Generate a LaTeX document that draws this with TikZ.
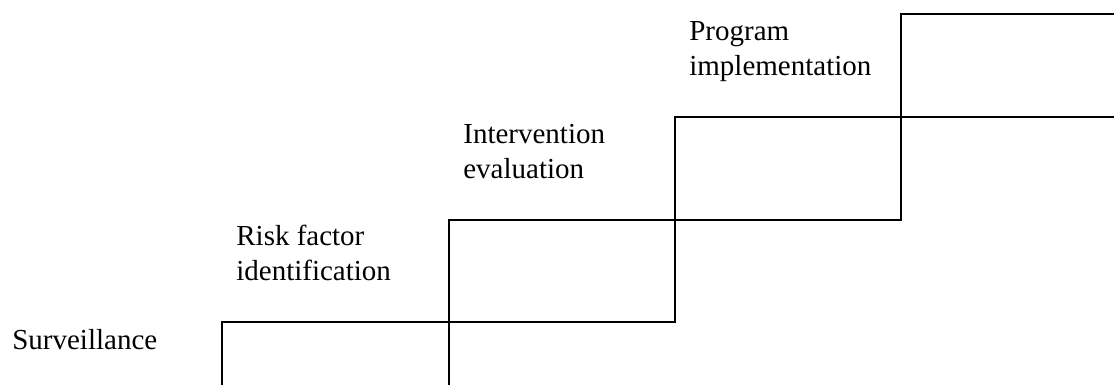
\documentclass[tikz,border=0pt]{standalone}
\usepackage{fontspec}
\setmainfont{Liberation Serif}
\usetikzlibrary{positioning}

\begin{document}
\begin{tikzpicture}[x=0.02cm,y=-0.02cm,
    stair/.style={line width=1pt,line join=miter},
    steplabel/.style={anchor=base west,inner sep=0pt,align=left,
      font=\fontsize{16.5}{19.9}\selectfont}]
              \useasboundingbox (0,0) rectangle (1114,385);
              \def\dx{14}
              \def\lift{42}

              \coordinate (edgeone) at (222,385);
              \coordinate (stepone) at (222,322);
              \coordinate (stepthree) at (675,117);
              \coordinate (endone) at (1114,117);

              \coordinate (edgetwo) at (449,385);
              \coordinate (steptwo) at (449,220);
              \coordinate (stepfour) at (901,14);
              \coordinate (endtwo) at (1114,14);

              \draw[stair] (edgeone) |- (stepthree |- stepone) |- (endone);
              \draw[stair] (edgetwo) |- (stepfour |- steptwo) |- (endtwo);

              \node[steplabel] (surv) at (12,349) {Surveillance};
              \node[steplabel] (risk) at ([xshift=\dx*0.02cm,yshift=\lift*0.02cm]stepone) {Risk factor\\identification};
              \node[steplabel] (interv) at ([xshift=\dx*0.02cm,yshift=\lift*0.02cm]steptwo) {Intervention\\evaluation};
              \node[steplabel] (prog) at ([xshift=\dx*0.02cm,yshift=\lift*0.02cm]stepthree) {Program\\implementation};
            \end{tikzpicture}
\end{document}
